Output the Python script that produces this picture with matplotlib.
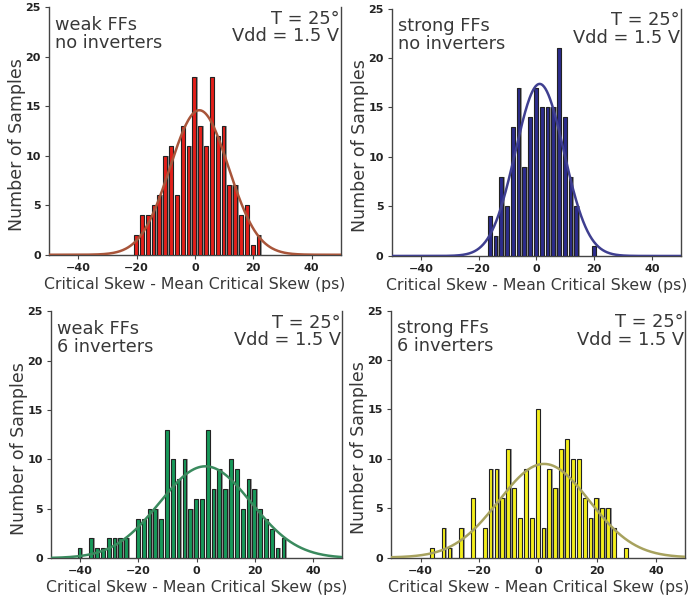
#%% import libraries
import numpy as np
import matplotlib.pyplot as plt

#%% histogram data (bin centres in ps, counts per 2 ps bin)

# weak FFs, no inverters
skew_weak_noinv = [-20, -18, -16, -14, -12, -10, -8, -6, -4, -2, 0, 2, 4, 6, 8, 10, 12, 14, 16, 18, 20, 22]
count_weak_noinv = [2, 4, 4, 5, 6, 10, 11, 6, 13, 11, 18, 13, 11, 18, 12, 13, 7, 7, 4, 5, 1, 2]

# strong FFs, no inverters
skew_strong_noinv = [-16, -14, -12, -10, -8, -6, -4, -2, 0, 2, 4, 6, 8, 10, 12, 14, 20]
count_strong_noinv = [4, 2, 8, 5, 13, 17, 9, 14, 17, 15, 15, 15, 21, 14, 8, 5, 1]

# weak FFs, 6 inverters
skew_weak_6inv = [-40, -36, -34, -32, -30, -28, -26, -24, -20, -18, -16, -14, -12, -10, -8, -6, -4, -2,
                  0, 2, 4, 6, 8, 10, 12, 14, 16, 18, 20, 22, 24, 26, 28, 30]
count_weak_6inv = [1, 2, 1, 1, 2, 2, 2, 2, 4, 4, 5, 5, 4, 13, 10, 8, 10, 5,
                   6, 6, 13, 7, 9, 7, 10, 9, 5, 8, 7, 5, 4, 3, 1, 2]

# strong FFs, 6 inverters
skew_strong_6inv = [-36, -32, -30, -26, -22, -18, -16, -14, -12, -10, -8, -6, -4, -2,
                    0, 2, 4, 6, 8, 10, 12, 14, 16, 18, 20, 22, 24, 26, 30]
count_strong_6inv = [1, 3, 1, 3, 6, 3, 9, 9, 6, 11, 7, 4, 9, 4,
                     15, 3, 9, 7, 11, 12, 10, 10, 6, 4, 6, 5, 5, 3, 1]

# normal fit parameters (mean, sigma) in ps
fit_mean = [1.5, 1.1, 3.0, 2.0]
fit_sigma = [10.0, 8.4, 15.7, 15.4]

ff_labels = ['weak FFs\nno inverters', 'strong FFs\nno inverters', 'weak FFs\n6 inverters', 'strong FFs\n6 inverters']
cond_label = 'T = 25°\nVdd = 1.5 V'

bar_colors = ['#e41f1a', '#2c2c8c', '#17995a', '#f4ef1c']
fit_colors = ['#a8553a', '#3f3f90', '#3a8a5e', '#a7a25e']

bin_width = 2.0

#%% plot
plt.rcParams['font.family'] = 'DejaVu Sans'
fig = plt.figure(figsize=(6.9, 6.08), dpi=100)

# axes positions in figure fractions [left, bottom, width, height]
positions = [[0.071, 0.581, 0.423, 0.407],
             [0.568, 0.579, 0.419, 0.407],
             [0.074, 0.082, 0.422, 0.406],
             [0.567, 0.083, 0.426, 0.406]]

panels = [(skew_weak_noinv, count_weak_noinv),
          (skew_strong_noinv, count_strong_noinv),
          (skew_weak_6inv, count_weak_6inv),
          (skew_strong_6inv, count_strong_6inv)]

text_color = '#383838'
x_fit = np.linspace(-50, 50, 400)

for i, (skew, count) in enumerate(panels):
    ax = fig.add_axes(positions[i])
    skew = np.array(skew, dtype=float)
    count = np.array(count, dtype=float)

    # grey side of each bar, then the coloured face on top
    ax.bar(skew + 0.7, count, width=0.5, color='#9c9c9c', edgecolor='none', zorder=2)
    ax.bar(skew - 0.2, count, width=1.3, color=bar_colors[i], edgecolor='#222222', linewidth=0.8, zorder=3)

    # normal curve scaled to the histogram
    n = count.sum()
    peak = n * bin_width / (fit_sigma[i] * np.sqrt(2 * np.pi))
    y_fit = peak * np.exp(-0.5 * ((x_fit - fit_mean[i]) / fit_sigma[i]) ** 2)
    ax.plot(x_fit, y_fit, color=fit_colors[i], linewidth=1.8, zorder=4)

    ax.set_xlim(-50, 50)
    ax.set_ylim(0, 25)
    ax.set_xticks([-40, -20, 0, 20, 40])
    ax.set_yticks([0, 5, 10, 15, 20, 25])
    ax.tick_params(direction='out', length=3, width=0.8, colors='#444444', labelsize=8, pad=3)
    for lab in ax.get_xticklabels() + ax.get_yticklabels():
        lab.set_fontweight('bold')
        lab.set_color('#222222')

    ax.spines['top'].set_visible(False)
    for s in ['left', 'bottom', 'right']:
        ax.spines[s].set_color('#444444')
        ax.spines[s].set_linewidth(1.0)

    ax.set_xlabel('Critical Skew - Mean Critical Skew (ps)', fontsize=11.3, color=text_color)
    ax.xaxis.set_label_coords(0.5, -0.09)
    ax.set_ylabel('Number of Samples', fontsize=12.5, color=text_color)
    ax.yaxis.set_label_coords(-0.08, 0.445)

    ax.text(0.02, 0.965, ff_labels[i], transform=ax.transAxes, ha='left', va='top',
            fontsize=12.8, color=text_color, linespacing=0.97)
    ax.text(0.995, 0.99, cond_label, transform=ax.transAxes, ha='right', va='top',
            multialignment='right', fontsize=12.8, color=text_color, linespacing=0.97)

plt.savefig('out.png', dpi=100)
